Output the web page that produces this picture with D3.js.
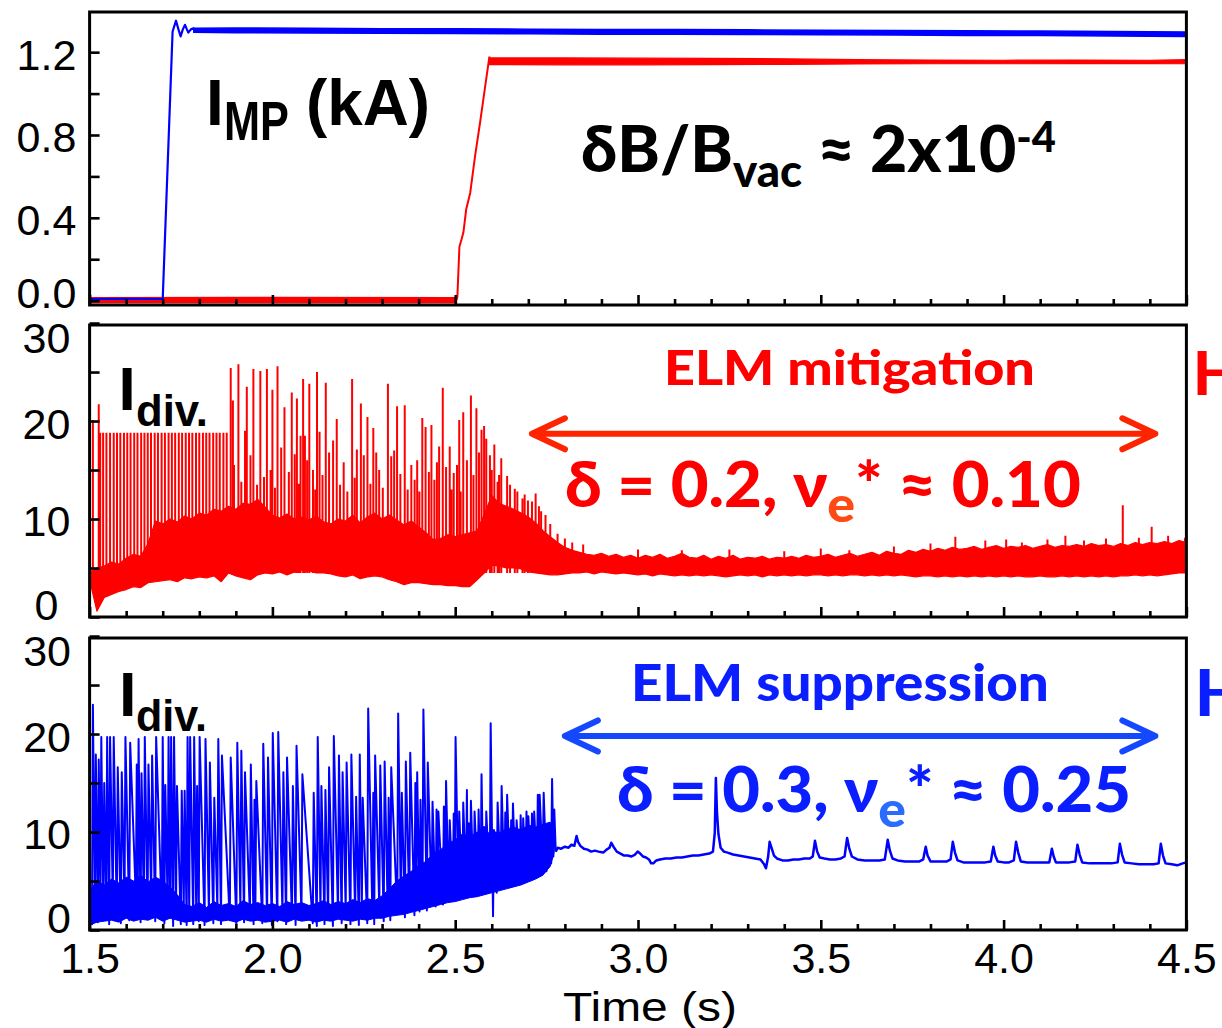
<!DOCTYPE html>
<html>
<head>
<meta charset="utf-8">
<script src="https://cdn.jsdelivr.net/npm/d3@7"></script>
<style>
  html, body { margin: 0; padding: 0; background: #fff; }
  svg { display: block; }
  text { white-space: pre; }
</style>
</head>
<body>
<svg id="chart" width="1222" height="1028"></svg>
<script>
// ---------- axes ----------
const timeMajor = [1.5, 2.0, 2.5, 3.0, 3.5, 4.0, 4.5];
const timeLabels = ["1.5", "2.0", "2.5", "3.0", "3.5", "4.0", "4.5"];
const timeMinor = [1.6,1.7,1.8,1.9,2.1,2.2,2.3,2.4,2.6,2.7,2.8,2.9,3.1,3.2,3.3,3.4,3.6,3.7,3.8,3.9,4.1,4.2,4.3,4.4];
const impTicks = [0, 0.2, 0.4, 0.6, 0.8, 1.0, 1.2];
const impLabelValues = [0, 0.4, 0.8, 1.2];
const impLabelText = ["0.0", "0.4", "0.8", "1.2"];
const divTicks = [0, 5, 10, 15, 20, 25, 30];
const divLabelValues = [0, 10, 20, 30];
const divLabelText = ["0", "10", "20", "30"];

// ---------- I-coil current I_MP (kA) ----------
// blue discharge: ramp with overshoot, then flat top band [t, lo, hi]
const impBlueTrace = [[1.500,0.008],[1.600,0.009],[1.700,0.008],[1.727,1.30],[1.7364,1.352],[1.743,1.31],[1.749,1.276],
  [1.755,1.31],[1.761,1.332],[1.766,1.31],[1.770,1.295],[1.777,1.31],[1.784,1.315],[1.790,1.305]];
const impBlueBand = [[1.785,1.296,1.316],[1.9,1.294,1.317],[2.1,1.293,1.315],[2.3,1.291,1.313],[2.5,1.290,1.313],
  [2.7,1.289,1.311],[2.9,1.287,1.310],[3.1,1.287,1.309],[3.3,1.285,1.308],[3.5,1.284,1.306],[3.7,1.283,1.305],
  [3.9,1.281,1.304],[4.1,1.280,1.302],[4.3,1.278,1.300],[4.5,1.276,1.298]];
// red discharge: zero level, ramp, rippled flat top
const impRedZero = [[1.5,-0.010,0.015],[2.0,-0.010,0.016],[2.504,-0.010,0.015]];
const impRedTrace = [[2.504,0.004],[2.506,0.02],[2.5115,0.26],[2.518,0.30],[2.5225,0.33],[2.530,0.44],[2.541,0.52],
  [2.5545,0.70],[2.568,0.86],[2.582,1.035],[2.5935,1.178],[2.597,1.155]];
const impRedBand = [[2.594,1.140,1.172],[2.8,1.139,1.172],[3.0,1.139,1.171],[3.2,1.140,1.170],[3.4,1.141,1.168],
  [3.6,1.143,1.164],[3.8,1.144,1.162],[4.0,1.144,1.161],[4.2,1.145,1.162],[4.4,1.145,1.161],[4.5,1.144,1.164]];

// ---------- divertor current, ELM mitigation case (red) ----------
// dense noise band [t, lo, hi]
const redBand = [
 [1.50,3.8,4.6],[1.52,0.6,5.0],[1.54,2.0,5.2],[1.56,2.3,5.6],[1.58,2.6,5.4],[1.60,2.8,6.0],[1.62,3.1,6.4],[1.64,3.0,6.2],[1.66,3.5,7.5],[1.68,3.6,9.8],
 [1.70,3.7,9.5],[1.72,3.8,10.0],[1.74,3.6,9.7],[1.76,4.0,10.3],[1.78,3.9,10.0],[1.80,4.1,10.6],[1.82,4.0,10.4],[1.84,4.2,11.0],[1.86,3.6,10.8],[1.88,4.5,11.3],
 [1.90,4.2,11.0],[1.92,4.0,11.6],[1.94,3.8,11.5],[1.96,4.3,12.0],[1.98,4.5,11.2],[2.00,4.4,10.4],[2.02,4.6,10.1],[2.04,4.3,10.5],[2.06,4.6,10.0],[2.08,4.8,10.2],
 [2.10,4.7,9.9],[2.12,4.5,10.3],[2.14,4.5,9.7],[2.16,4.4,9.5],[2.18,4.2,10.0],[2.20,4.1,9.8],[2.22,4.3,10.4],[2.24,3.9,9.6],[2.26,4.1,10.2],[2.28,4.2,10.6],
 [2.30,4.1,10.0],[2.32,3.8,10.4],[2.34,3.6,9.9],[2.36,3.3,9.4],[2.38,3.5,9.8],[2.40,3.5,9.2],[2.42,3.4,8.6],[2.44,3.3,7.9],[2.46,3.3,8.0],[2.48,3.2,8.4],
 [2.50,3.2,8.2],[2.52,3.1,8.4],[2.54,3.1,8.6],[2.56,3.8,8.8],[2.58,4.5,10.5],[2.60,5.3,12.4],[2.62,5.2,11.6],[2.64,5.0,11.3],[2.66,5.0,11.0],[2.68,4.9,10.6],
 [2.70,4.6,10.2],[2.72,4.5,9.6],[2.74,4.4,8.8],[2.76,4.3,8.2],[2.78,4.3,7.6],[2.80,4.4,7.1],[2.82,4.5,6.8],[2.84,4.5,6.6],[2.86,4.6,6.4],[2.88,4.4,6.3],
 [2.90,4.6,6.5],[2.92,4.5,6.2],[2.94,4.4,6.4],[2.96,4.5,6.1],[2.98,4.4,6.3],[3.00,4.3,6.0],[3.02,4.4,6.3],[3.04,4.2,6.1],[3.06,4.4,6.4],[3.08,4.3,6.0],
 [3.10,4.2,6.2],[3.12,4.3,6.5],[3.14,4.2,6.1],[3.16,4.3,6.0],[3.18,4.2,6.3],[3.20,4.3,5.9],[3.22,4.2,6.2],[3.24,4.1,6.0],[3.26,4.2,6.3],[3.28,4.3,5.9],
 [3.30,4.2,6.1],[3.32,4.3,6.0],[3.34,4.1,6.2],[3.36,4.3,5.9],[3.38,4.2,6.1],[3.40,4.3,6.0],[3.42,4.2,6.2],[3.44,4.3,6.0],[3.46,4.2,6.3],[3.48,4.3,6.1],
 [3.50,4.3,6.2],[3.52,4.2,6.4],[3.54,4.3,6.1],[3.56,4.2,6.3],[3.58,4.3,6.5],[3.60,4.3,6.2],[3.62,4.2,6.4],[3.64,4.3,6.6],[3.66,4.2,6.3],[3.68,4.3,6.7],
 [3.70,4.2,6.5],[3.72,4.3,6.4],[3.74,4.2,6.8],[3.76,4.1,6.6],[3.78,4.2,6.9],[3.80,4.2,6.7],[3.82,4.1,7.0],[3.84,4.2,6.8],[3.86,4.1,7.1],[3.88,4.2,6.9],
 [3.90,4.1,7.0],[3.92,4.2,7.2],[3.94,4.1,6.9],[3.96,4.2,7.1],[3.98,4.1,7.3],[4.00,4.2,7.0],[4.02,4.1,7.2],[4.04,4.2,7.1],[4.06,4.1,7.3],[4.08,4.1,7.0],
 [4.10,4.2,7.2],[4.12,4.1,7.4],[4.14,4.1,7.1],[4.16,4.2,7.3],[4.18,4.1,7.2],[4.20,4.2,7.4],[4.22,4.1,7.2],[4.24,4.2,7.5],[4.26,4.1,7.3],[4.28,4.2,7.4],
 [4.30,4.1,7.2],[4.32,4.2,7.5],[4.34,4.2,7.3],[4.36,4.3,7.6],[4.38,4.2,7.4],[4.40,4.3,7.6],[4.42,4.2,7.5],[4.44,4.3,7.7],[4.46,4.4,7.5],[4.48,4.5,7.8],
 [4.50,4.5,7.6]];
// ELM spikes [t, peak]
const redSpikes = [
 [1.509,20.1],[1.525,21.7],
 [1.529,18.8],[1.537,18.8],[1.546,18.8],[1.556,18.8],[1.566,18.8],[1.575,18.8],[1.584,18.8],[1.594,18.8],[1.603,18.8],[1.612,18.8],
 [1.622,18.8],[1.631,18.8],[1.641,18.8],[1.650,18.8],[1.659,18.8],[1.668,18.8],[1.678,18.8],[1.687,18.8],[1.697,18.8],[1.706,18.8],
 [1.716,18.8],[1.725,18.8],[1.734,18.8],[1.744,18.8],[1.753,18.8],[1.763,18.8],[1.772,18.8],[1.781,18.8],[1.791,18.8],[1.800,18.8],
 [1.810,18.8],[1.819,18.8],[1.828,18.8],[1.838,18.8],[1.847,18.8],[1.856,18.8],[1.866,18.8],[1.875,18.8],
 [1.886,25.4],[1.892,22.1],[1.907,25.8],[1.925,19.0],[1.930,23.5],[1.948,25.3],[1.967,25.1],[1.977,14.3],[1.985,25.3],[2.000,23.2],
 [2.014,25.6],[2.024,17.3],[2.033,21.4],[2.053,22.9],[2.061,16.6],[2.067,22.3],[2.077,18.5],[2.084,24.3],[2.089,18.5],[2.101,23.8],
 [2.111,15.0],[2.122,25.0],[2.129,18.9],[2.146,23.9],[2.166,18.0],[2.176,20.2],[2.218,24.3],[2.231,17.1],[2.242,21.8],[2.250,16.5],
 [2.260,20.4],[2.276,19.3],[2.292,15.0],[2.316,23.8],[2.325,16.4],[2.333,17.0],[2.341,21.5],[2.362,21.6],[2.370,13.0],[2.389,14.0],
 [2.396,16.0],[2.410,20.3],[2.419,19.4],[2.435,19.6],[2.443,14.0],[2.456,17.4],[2.466,23.4],[2.475,15.3],[2.485,17.4],[2.496,14.7],
 [2.511,20.1],[2.522,20.9],[2.532,16.0],[2.543,22.6],[2.558,21.3],[2.572,19.1],[2.579,19.5],[2.585,18.2],[2.595,16.5],[2.607,17.6],
 [2.616,13.8],[2.626,16.2],[2.642,14.4],[2.663,13.1],[2.684,12.1],[2.699,11.9],[2.729,11.3],[2.747,10.4],
 [1.895,15.5],[1.915,13.8],[1.940,16.5],[1.958,13.5],[1.995,15.0],[2.007,13.2],[2.045,14.8],[2.072,13.6],[2.095,16.0],[2.117,13.0],
 [2.137,14.5],[2.155,16.8],[2.185,13.5],[2.195,15.8],[2.205,12.8],[2.225,14.2],[2.268,13.6],[2.284,16.8],[2.302,13.2],[2.350,14.6],
 [2.380,15.5],[2.402,12.8],[2.428,14.8],[2.450,15.8],[2.490,13.0],[2.505,15.5],[2.515,12.8],[2.550,14.5],[2.565,16.8],[2.600,15.0],
 [2.620,14.5],[2.650,13.5],[2.670,12.8],[2.690,12.5],[2.710,11.8],[2.720,12.6],[2.735,10.8],
 [2.760,9.5],[2.780,8.5],[2.800,8.0],[2.820,7.6],[2.850,7.4],[3.000,6.9],[3.120,6.8],[3.250,6.9],[3.400,6.7],[3.500,7.0],
 [3.578,6.8],[3.700,7.2],[3.800,7.5],[3.868,8.2],[3.950,7.8],[4.007,7.9],[4.050,7.6],[4.120,7.9],[4.169,8.3],[4.220,7.8],
 [4.280,8.0],[4.326,11.4],[4.370,8.1],[4.405,9.2],[4.450,8.3],[4.496,8.1]];

// ---------- divertor current, ELM suppression case (blue) ----------
// ELM phase: [t, trough before the ELM, peak]
const blueElms = [
 [1.509,0.5,23.0],[1.517,2.0,17.9],[1.525,0.8,17.4],[1.532,3.5,19.7],[1.540,1.0,15.0],[1.548,2.5,19.7],[1.556,0.6,19.7],[1.566,3.0,19.7],
 [1.577,1.2,16.6],[1.588,0.7,16.1],[1.598,2.8,19.7],[1.611,1.0,19.1],[1.629,3.2,16.9],[1.634,1.5,19.5],[1.642,0.8,16.0],[1.651,2.2,19.7],
 [1.661,1.1,16.9],[1.671,3.0,17.8],[1.682,0.9,19.7],[1.700,1.6,19.7],[1.707,0.7,14.8],[1.716,2.6,19.7],[1.723,1.3,19.7],[1.731,0.4,19.7],
 [1.739,2.4,14.7],[1.752,0.6,14.2],[1.760,2.0,14.2],[1.768,0.5,19.7],[1.775,1.8,19.7],[1.786,0.6,19.7],[1.794,2.5,14.7],[1.801,0.9,19.7],
 [1.817,0.5,19.5],[1.829,1.4,17.1],[1.841,0.7,13.5],[1.852,2.2,19.5],[1.862,0.6,17.8],[1.886,1.0,17.6],[1.904,0.6,19.1],[1.915,2.1,18.3],
 [1.925,0.8,16.1],[1.941,1.5,16.9],[1.951,0.6,13.3],[1.956,2.4,15.2],[1.975,0.7,19.0],[1.988,1.2,17.6],[2.001,0.5,20.1],[2.016,0.9,20.2],
 [2.030,1.8,16.1],[2.040,0.6,17.6],[2.056,1.3,14.7],[2.066,0.5,18.8],[2.082,1.6,15.9],[2.113,0.7,14.0],[2.124,0.4,19.7],[2.134,1.9,14.7],
 [2.145,0.6,14.3],[2.155,1.2,16.6],[2.168,0.4,19.8],[2.182,1.5,17.8],[2.192,0.7,16.1],[2.203,2.0,17.1],[2.216,0.6,17.9],[2.229,1.4,13.6],
 [2.239,0.5,17.9],[2.247,1.8,13.5],[2.262,0.7,22.6],[2.276,1.5,14.0],[2.281,0.6,17.8],[2.295,2.2,16.8],[2.307,0.9,17.2],[2.318,1.7,13.5],
 [2.325,1.0,16.6],[2.344,1.6,22.1],[2.354,2.4,14.0],[2.365,1.3,17.2],[2.377,2.6,18.1],[2.391,1.5,15.0],[2.396,3.0,16.1],[2.405,1.9,13.3],
 [2.413,2.8,22.5],[2.425,2.0,17.1],[2.438,3.2,13.1],[2.449,2.4,12.3],[2.454,3.5,12.1],[2.469,2.6,12.6],[2.475,3.8,15.2],[2.485,2.9,11.2],
 [2.496,4.0,11.9],[2.501,3.0,19.7],[2.511,4.2,12.1],[2.522,3.3,13.0],[2.532,4.5,14.3],[2.537,3.6,10.9],[2.543,4.6,13.2],[2.553,3.9,12.1],
 [2.564,4.8,12.3],[2.572,3.8,15.9],[2.579,5.0,10.5],[2.585,4.2,12.1],[2.597,4.3,21.1],[2.606,1.4,10.2],[2.616,3.8,13.0],[2.627,5.2,14.7],
 [2.637,4.4,12.0],[2.642,5.5,13.8],[2.653,4.6,11.2],[2.658,5.6,12.9],[2.668,4.8,11.2],[2.679,5.8,11.7],[2.686,5.0,11.4],[2.695,6.0,12.1],
 [2.700,5.2,11.6],[2.710,6.2,11.9],[2.716,5.4,12.1],[2.726,6.4,13.8],[2.731,5.6,13.8],[2.742,6.6,14.0],[2.752,6.0,10.2],[2.757,7.0,10.9],
 [2.765,6.8,15.4],[2.771,7.5,12.3]];
// dense inter-ELM band [t, lo, hi]
const blueBand = [
 [1.50,0.5,4.0],[1.52,0.8,5.0],[1.54,0.9,4.6],[1.56,1.0,5.2],[1.58,0.8,4.8],[1.60,1.2,5.4],[1.62,0.9,5.0],[1.64,1.1,5.6],[1.66,1.0,4.9],[1.68,1.3,5.4],
 [1.70,0.9,5.0],[1.72,1.2,4.4],[1.74,1.0,3.6],[1.76,0.8,2.6],[1.78,0.9,2.4],[1.80,1.0,2.8],[1.82,0.8,2.3],[1.84,1.1,2.9],[1.86,0.9,2.5],[1.88,1.0,2.7],
 [1.90,0.8,2.4],[1.92,1.1,3.0],[1.94,0.9,2.6],[1.96,1.0,2.8],[1.98,0.8,2.5],[2.00,0.9,2.7],[2.02,1.0,2.4],[2.04,0.8,2.9],[2.06,1.1,2.6],[2.08,0.9,2.8],
 [2.10,1.0,2.5],[2.12,0.8,2.7],[2.14,1.0,3.0],[2.16,0.9,2.6],[2.18,1.1,2.9],[2.20,1.0,2.7],[2.22,0.9,3.1],[2.24,1.1,2.8],[2.26,1.0,3.2],[2.28,1.2,3.0],
 [2.30,1.2,3.5],[2.32,1.4,4.2],[2.34,1.5,5.0],[2.36,1.6,5.5],[2.38,1.8,6.0],[2.40,2.0,6.6],[2.42,2.2,7.0],[2.44,2.4,7.8],[2.46,2.6,8.2],[2.48,2.8,8.8],
 [2.50,2.9,9.2],[2.52,3.1,9.8],[2.54,3.3,9.5],[2.56,3.4,10.0],[2.58,3.6,9.7],[2.60,3.8,10.1],[2.62,4.0,9.9],[2.64,4.2,10.3],[2.66,4.4,10.5],[2.68,4.6,10.2],
 [2.70,4.9,10.7],[2.72,5.2,10.5],[2.74,5.6,10.8],[2.76,6.5,11.0],[2.77,7.8,10.3]];
// suppressed phase trace [t, value]
const blueQuiet = [
 [2.775,8.0],[2.780,8.4],[2.790,8.3],[2.800,8.5],[2.810,8.4],[2.818,8.7],[2.826,8.6],[2.832,9.6],[2.836,9.0],[2.842,8.6],
 [2.852,8.3],[2.862,8.2],[2.872,8.0],[2.882,8.1],[2.892,8.0],[2.905,7.9],[2.914,8.2],[2.922,8.4],[2.927,8.9],[2.933,8.5],
 [2.942,8.0],[2.952,7.8],[2.962,7.6],[2.972,7.6],[2.982,7.5],[2.992,7.7],[2.999,8.0],[3.006,7.8],[3.014,7.5],[3.022,7.4],
 [3.030,7.2],[3.036,6.8],[3.042,6.8],[3.050,7.1],[3.060,7.2],[3.075,7.3],[3.090,7.3],[3.105,7.4],[3.120,7.4],[3.135,7.5],
 [3.150,7.6],[3.165,7.6],[3.180,7.7],[3.195,7.8],[3.205,8.0],[3.210,9.9],[3.213,15.5],[3.216,12.0],[3.220,9.8],[3.226,8.4],
 [3.235,8.0],[3.245,7.9],[3.260,7.7],[3.275,7.6],[3.290,7.5],[3.305,7.4],[3.320,7.3],[3.335,7.2],[3.345,6.7],[3.350,6.3],
 [3.356,7.5],[3.360,9.0],[3.366,8.3],[3.372,7.6],[3.380,7.3],[3.395,7.1],[3.410,7.1],[3.425,7.2],[3.440,7.2],[3.455,7.3],
 [3.470,7.3],[3.478,7.5],[3.484,9.1],[3.490,8.0],[3.497,7.4],[3.510,7.3],[3.525,7.2],[3.540,7.2],[3.555,7.3],[3.565,7.5],
 [3.572,9.4],[3.578,8.3],[3.585,7.5],[3.600,7.2],[3.620,7.1],[3.640,7.1],[3.660,7.1],[3.675,7.2],[3.683,9.2],[3.689,8.1],
 [3.696,7.3],[3.710,7.1],[3.730,7.0],[3.750,7.0],[3.770,7.0],[3.780,7.2],[3.787,8.5],[3.792,7.6],[3.800,7.0],[3.815,7.0],
 [3.830,7.0],[3.845,7.0],[3.855,7.2],[3.861,9.0],[3.867,7.9],[3.874,7.1],[3.890,6.9],[3.910,6.9],[3.930,6.9],[3.950,6.9],
 [3.965,7.0],[3.972,8.5],[3.977,7.6],[3.984,7.0],[4.000,6.9],[4.015,6.9],[4.028,7.1],[4.034,9.0],[4.040,7.9],[4.047,7.0],
 [4.065,6.9],[4.085,6.9],[4.105,6.9],[4.125,6.9],[4.132,8.3],[4.137,7.5],[4.143,6.9],[4.160,6.9],[4.180,6.9],[4.196,7.0],
 [4.202,8.7],[4.208,7.7],[4.215,6.9],[4.235,6.8],[4.255,6.8],[4.275,6.8],[4.295,6.8],[4.312,6.9],[4.318,8.8],[4.324,7.7],
 [4.331,6.9],[4.350,6.8],[4.370,6.7],[4.390,6.7],[4.410,6.7],[4.424,6.8],[4.430,8.8],[4.436,7.6],[4.443,6.8],[4.460,6.7],
 [4.475,6.6],[4.490,6.8],[4.500,6.9]];

// ---------- layout ----------
const RED = "#ff0000", BLUE = "#0000ff";
const HEL = "'Liberation Sans', Arimo, Arial, Helvetica, sans-serif";
const GEO = "Lato, 'Open Sans', 'DejaVu Sans', sans-serif";
const xL = 89.6, xR = 1186.4;

const svg = d3.select("#chart");
const x = d3.scaleLinear().domain([1.5, 4.5]).range([xL, xR]);

const panels = {
  imp: { top: 12, bottom: 305, y: d3.scaleLinear().domain([-0.021, 1.394]).range([305, 12]) },
  mid: { top: 325, bottom: 617, y: d3.scaleLinear().domain([0, 29.8]).range([617, 325]) },
  bot: { top: 638, bottom: 930, y: d3.scaleLinear().domain([0, 29.8]).range([930, 638]) }
};

const defs = svg.append("defs");
Object.entries(panels).forEach(([k, p]) => {
  defs.append("clipPath").attr("id", "clip-" + k)
    .append("rect").attr("x", xL).attr("y", p.top).attr("width", xR - xL).attr("height", p.bottom - p.top);
});

function layer(k) { return svg.append("g").attr("clip-path", `url(#clip-${k})`); }
function bandArea(y) {
  return d3.area().x(d => x(d[0])).y0(d => y(d[1])).y1(d => y(d[2]));
}
function trace(y) { return d3.line().x(d => x(d[0])).y(d => y(d[1])); }

// ---------- top panel: I_MP ----------
{
  const y = panels.imp.y, g = layer("imp");
  g.append("path").datum(impRedZero).attr("d", bandArea(y))
    .attr("fill", RED).attr("stroke", RED).attr("stroke-width", 1.2);
  g.append("path").datum(impRedTrace).attr("d", trace(y))
    .attr("fill", "none").attr("stroke", RED).attr("stroke-width", 2);
  g.append("path").datum(impRedBand).attr("d", bandArea(y))
    .attr("fill", RED).attr("stroke", RED).attr("stroke-width", 1.2);
  g.append("path").datum(impBlueTrace).attr("d", trace(y))
    .attr("fill", "none").attr("stroke", BLUE).attr("stroke-width", 2.2).attr("stroke-linejoin", "round");
  g.append("path").datum(impBlueBand).attr("d", bandArea(y))
    .attr("fill", BLUE).attr("stroke", BLUE).attr("stroke-width", 1.5);
}

// ---------- middle panel: red I_div ----------
{
  const y = panels.mid.y, g = layer("mid");
  g.append("path").datum(redBand).attr("d", bandArea(y))
    .attr("fill", RED).attr("stroke", RED).attr("stroke-width", 1.2).attr("stroke-linejoin", "round");
  const p = d3.path();
  redSpikes.forEach(([t, v]) => { p.moveTo(x(t), y(4.5)); p.lineTo(x(t), y(v)); });
  g.append("path").attr("d", p.toString()).attr("fill", "none").attr("stroke", RED).attr("stroke-width", 2);
}

// ---------- bottom panel: blue I_div ----------
{
  const y = panels.bot.y, g = layer("bot");
  g.append("path").datum(blueBand).attr("d", bandArea(y))
    .attr("fill", BLUE).attr("stroke", BLUE).attr("stroke-width", 1);
  const pts = [];
  blueElms.forEach(([t, lo, hi]) => { pts.push([t - 0.0025, lo]); pts.push([t, hi]); });
  pts.push(blueQuiet[0]);
  g.append("path").datum(pts).attr("d", trace(y))
    .attr("fill", "none").attr("stroke", BLUE).attr("stroke-width", 2).attr("stroke-linejoin", "round");
  g.append("path").datum(blueQuiet).attr("d", trace(y))
    .attr("fill", "none").attr("stroke", BLUE).attr("stroke-width", 2.5).attr("stroke-linejoin", "round");
}

// ---------- frames, ticks, tick labels ----------
function drawFrame(p, yTicks, labelVals, labelText, labelX, anchor) {
  const g = svg.append("g");
  const minor = g.append("g").attr("transform", `translate(0,${p.bottom})`)
    .call(d3.axisBottom(x).tickValues(timeMinor).tickSize(-6).tickFormat(""));
  const major = g.append("g").attr("transform", `translate(0,${p.bottom})`)
    .call(d3.axisBottom(x).tickValues(timeMajor).tickSize(-10).tickFormat(""));
  const yax = g.append("g").attr("transform", `translate(${xL},0)`)
    .call(d3.axisRight(p.y).tickValues(yTicks).tickSize(10).tickFormat(""));
  [minor, major, yax].forEach(a => {
    a.select(".domain").remove();
    a.selectAll(".tick line").attr("stroke", "#000").attr("stroke-width", 2.6);
  });
  g.append("rect").attr("x", xL).attr("y", p.top).attr("width", xR - xL).attr("height", p.bottom - p.top)
    .attr("fill", "none").attr("stroke", "#000").attr("stroke-width", 3);
  labelVals.forEach((v, i) => {
    const cy = Math.min(Math.max(p.y(v) + 2, p.top + 13), p.bottom - 12);
    g.append("text").attr("x", labelX).attr("y", cy).attr("dy", "0.36em")
      .attr("text-anchor", anchor).attr("font-family", HEL).attr("font-size", 43)
      .attr("fill", "#000").text(labelText[i]);
  });
}
drawFrame(panels.imp, impTicks, impLabelValues, impLabelText, 46.5, "middle");
drawFrame(panels.mid, divTicks, divLabelValues, divLabelText, 46.5, "middle");
drawFrame(panels.bot, divTicks, divLabelValues, divLabelText, 71, "end");

// time axis labels
const xlab = svg.append("g").attr("transform", `translate(0,${panels.bot.bottom})`)
  .call(d3.axisBottom(x).tickValues(timeMajor).tickFormat((d, i) => timeLabels[i]).tickSize(0).tickPadding(12));
xlab.select(".domain").remove();
xlab.selectAll("text").attr("font-family", HEL).attr("font-size", 43).attr("fill", "#000");

// ---------- annotations ----------
// place a text so that its box spans [x0, x1] with baseline at y
function fitText(sel, x0, x1, y) {
  const bb = sel.node().getBBox();
  const sx = (x1 - x0) / bb.width;
  sel.attr("transform", `translate(${x0 - bb.x * sx},${y}) scale(${sx},1)`);
  return sel;
}
function plainText(str, family, size, weight, fill) {
  return svg.append("text").attr("x", 0).attr("y", 0).attr("font-family", family)
    .attr("font-size", size).attr("font-weight", weight).attr("fill", fill).text(str);
}

fitText(plainText("Time (s)", HEL, 41, 400, "#000"), 563, 737, 1021);

// I_MP (kA)
svg.append("text").attr("x", 206).attr("y", 125).attr("font-family", HEL).attr("font-weight", 700)
  .attr("font-size", 64).attr("fill", "#000").text("I");
fitText(plainText("MP", HEL, 55, 700, "#000"), 224, 289, 140);
fitText(plainText("(kA)", HEL, 64, 700, "#000"), 306, 430, 125);

// dB/Bvac ≈ 2x10^-4
{
  const t = svg.append("text").attr("font-family", GEO).attr("font-weight", 900).attr("fill", "#000").attr("font-size", 65);
  t.append("tspan").text("δB/B");
  t.append("tspan").attr("font-size", 46).attr("dy", 15).text("vac");
  t.append("tspan").attr("dy", -15).text(" ≈ 2x10");
  t.append("tspan").attr("font-size", 42).attr("dy", -20).text("-4");
  fitText(t, 581, 1056, 172);
}

// I_div. labels
svg.append("text").attr("x", 118.5).attr("y", 410).attr("font-family", HEL).attr("font-weight", 700)
  .attr("font-size", 62).attr("fill", "#000").text("I");
fitText(plainText("div.", HEL, 45, 700, "#000"), 136, 208, 426);
svg.append("text").attr("x", 119).attr("y", 716).attr("font-family", HEL).attr("font-weight", 700)
  .attr("font-size", 63).attr("fill", "#000").text("I");
fitText(plainText("div.", HEL, 44, 700, "#000"), 136, 207, 731);

// regime labels
fitText(plainText("ELM mitigation", GEO, 47, 900, "#ff0000"), 664, 1035, 385);
fitText(plainText("ELM suppression", GEO, 51, 900, "#0a1eff"), 631, 1049, 700.7);

function paramText(str1, tail, sub, color, subColor, x0, x1, y) {
  const t = svg.append("text").attr("font-family", GEO).attr("font-weight", 900).attr("fill", color).attr("font-size", 63);
  t.append("tspan").text(str1);
  t.append("tspan").attr("font-size", 50).attr("dy", 15).attr("fill", subColor).text(sub);
  t.append("tspan").attr("dy", -15).text("*");
  t.append("tspan").text(tail);
  return fitText(t, x0, x1, y);
}
paramText("δ = 0.2, ν", " ≈ 0.10", "e", "#ff0000", "#ff4a14", 565, 1081, 507);
paramText("δ = 0.3, ν", " ≈ 0.25", "e", "#0a1eff", "#2a6cff", 617, 1131, 811.7);

// double-headed arrows spanning the controlled phase
function arrow(t0, t1, yv, y, color) {
  const x0 = x(t0), x1 = x(t1), yy = y(yv);
  const p = d3.path();
  p.moveTo(x0, yy); p.lineTo(x1, yy);
  p.moveTo(x0 + 33, yy - 15.5); p.lineTo(x0, yy); p.lineTo(x0 + 33, yy + 15.5);
  p.moveTo(x1 - 33, yy - 15.5); p.lineTo(x1, yy); p.lineTo(x1 - 33, yy + 15.5);
  svg.append("path").attr("d", p.toString()).attr("fill", "none").attr("stroke", color)
    .attr("stroke-width", 6).attr("stroke-linecap", "round").attr("stroke-linejoin", "round");
}
arrow(2.710, 4.415, 18.7, panels.mid.y, "#ff2400");
arrow(2.800, 4.415, 19.8, panels.bot.y, "#1448ff");

// right-hand tags (cut at the page edge)
svg.append("text").attr("x", 1193).attr("y", 395).attr("font-family", GEO).attr("font-weight", 900)
  .attr("font-size", 60).attr("fill", "#ff0000").text("H");
svg.append("text").attr("x", 1195).attr("y", 716).attr("font-family", GEO).attr("font-weight", 900)
  .attr("font-size", 64).attr("fill", "#0a1eff").text("H");
</script>
</body>
</html>
